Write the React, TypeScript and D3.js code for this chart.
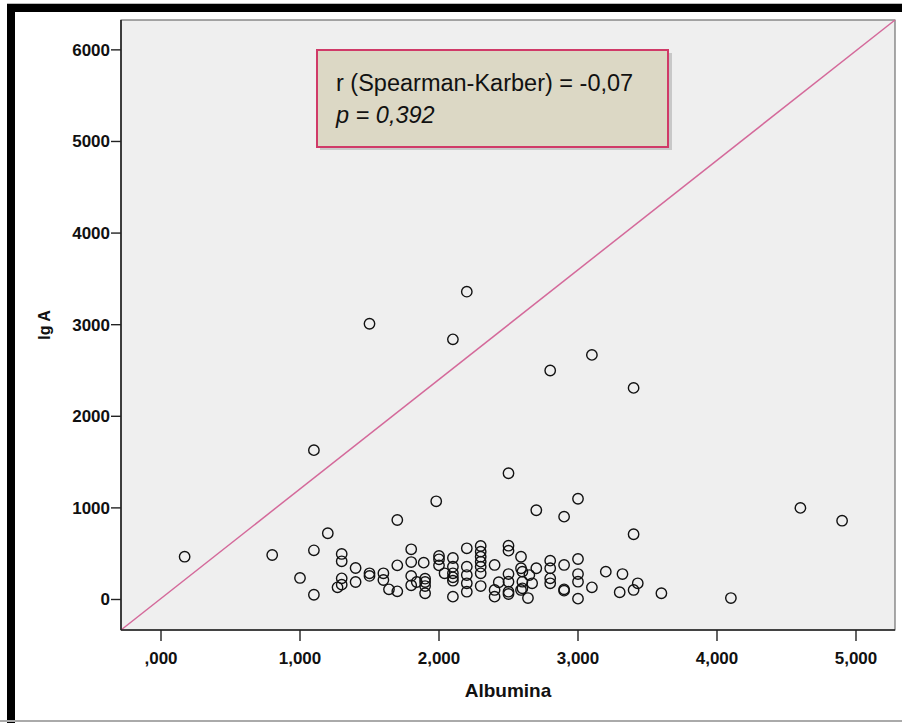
import React from 'react';
import * as d3 from 'd3';

// Albumina (x) and Ig A (y), one pair per subject
const albumina = [
  0.17, 0.8, 1.0, 1.1, 1.1, 1.1, 1.2, 1.5, 1.7, 1.98, 2.1, 2.2, 2.5, 2.7, 2.8, 2.9, 3.0, 3.1, 3.4, 3.4, 3.6, 4.1, 4.6, 4.9,
  1.3, 1.3, 1.3, 1.27, 1.3,
  1.4, 1.4,
  1.5, 1.5,
  1.6, 1.6, 1.64,
  1.7, 1.7,
  1.8, 1.8, 1.8, 1.8, 1.84,
  1.89,
  1.9, 1.9, 1.9, 1.9,
  2.0, 2.0, 2.0, 2.04,
  2.1, 2.1, 2.1, 2.1, 2.1, 2.1,
  2.2, 2.2, 2.2, 2.2, 2.2,
  2.3, 2.3, 2.3, 2.3, 2.3, 2.3, 2.3,
  2.4, 2.43, 2.4, 2.4,
  2.5, 2.5, 2.5, 2.5, 2.5, 2.5,
  2.59, 2.59, 2.6, 2.6, 2.6, 2.59, 2.65, 2.67, 2.64,
  2.7,
  2.8, 2.8, 2.8, 2.8,
  2.9, 2.9, 2.9,
  3.0, 3.0, 3.0, 3.0,
  3.1, 3.2, 3.32, 3.3, 3.4, 3.43,
];

const igA = [
  467, 486, 235, 537, 52, 1630, 723, 3010, 868, 1072, 2840, 3360, 1378, 974, 2500, 904, 1100, 2670, 2310, 712, 68, 16, 1000, 860,
  497, 417, 231, 133, 162,
  344, 191,
  286, 257,
  286, 213, 111,
  89, 373,
  548, 409, 257, 155, 191,
  402,
  227, 191, 147, 68,
  475, 439, 373, 286,
  453, 358, 286, 242, 205, 31,
  559, 358, 267, 177, 85,
  584, 522, 467, 413, 358, 286, 147,
  377, 188, 104, 31,
  587, 533, 278, 194, 85, 60,
  467, 341, 304, 194, 122, 104, 267, 177, 16,
  341,
  424, 341, 231, 177,
  377, 111, 96,
  442, 278, 194, 9,
  133, 304, 278, 79, 104, 177,
];

const xTicks = [0, 1, 2, 3, 4, 5];
const yTicks = [0, 1000, 2000, 3000, 4000, 5000, 6000];
const statLine1 = 'r (Spearman-Karber) = -0,07';
const statLine2 = 'p = 0,392';

const fmtX = (v: number) => {
  const s = v.toFixed(3).replace('.', ',');
  return s.startsWith('0,') ? s.slice(1) : s;
};

export default function App() {
  const W = 902;
  const H = 723;
  const plot = { left: 121, right: 895, top: 20, bottom: 630 };

  // domain chosen so that ticks land where the reference places them
  const x = d3.scaleLinear().domain([-0.2878, 5.2806]).range([plot.left, plot.right]);
  const y = d3.scaleLinear().domain([-333, 6326]).range([plot.bottom, plot.top]);

  const [x0, x1] = x.domain();
  const [y0, y1] = y.domain();

  const pts = albumina.map((a, i) => ({ a, g: igA[i] }));
  const font = '"Liberation Sans", Arial, sans-serif';

  return (
    <svg width={W} height={H} style={{ position: 'absolute', left: 0, top: 0, background: '#fff' }}>
      {/* outer frame of the source slide */}
      <rect x={7} y={3} width={W} height={1} fill="#bbb" />
      <rect x={7} y={4} width={W} height={8} fill="#000" />
      <rect x={7} y={4} width={8} height={H} fill="#000" />
      <rect x={0} y={720} width={W} height={2} fill="#aaa" />

      <rect x={plot.left} y={plot.top} width={plot.right - plot.left} height={plot.bottom - plot.top}
        fill="#efefef" stroke="#555" strokeWidth={1} />

      {/* reference diagonal */}
      <line x1={x(x0)} y1={y(y0)} x2={x(x1)} y2={y(y1)} stroke="#d4699a" strokeWidth={1.5} />

      {pts.map((d, i) => (
        <circle key={i} cx={x(d.a)} cy={y(d.g)} r={5.2} fill="none" stroke="#111" strokeWidth={1.4} />
      ))}

      {/* axes */}
      <line x1={plot.left} y1={plot.top} x2={plot.left} y2={plot.bottom} stroke="#222" strokeWidth={1.6} />
      <line x1={plot.left} y1={plot.bottom} x2={plot.right} y2={plot.bottom} stroke="#222" strokeWidth={1.6} />

      {yTicks.map((t) => (
        <g key={t} transform={`translate(0,${y(t)})`}>
          <line x1={plot.left - 10} x2={plot.left} stroke="#222" strokeWidth={1.4} />
          <text x={plot.left - 11} dy="0.35em" textAnchor="end" fontFamily={font} fontWeight="bold" fontSize={17} fill="#111">
            {t}
          </text>
        </g>
      ))}

      {xTicks.map((t) => (
        <g key={t} transform={`translate(${x(t)},0)`}>
          <line y1={plot.bottom} y2={plot.bottom + 11} stroke="#222" strokeWidth={1.4} />
          <text y={plot.bottom + 34} textAnchor="middle" fontFamily={font} fontWeight="bold" fontSize={17} fill="#111">
            {fmtX(t)}
          </text>
        </g>
      ))}

      <text x={(plot.left + plot.right) / 2} y={697} textAnchor="middle" fontFamily={font} fontWeight="bold" fontSize={19} fill="#111">
        Albumina
      </text>
      <text transform={`translate(50,${(plot.top + plot.bottom) / 2}) rotate(-90)`} textAnchor="middle"
        fontFamily={font} fontWeight="bold" fontSize={16} fill="#111">
        Ig A
      </text>

      {/* stats box */}
      <rect x={320} y={53} width={352} height={97} fill="#999" opacity={0.45} />
      <rect x={317} y={50} width={351} height={97} fill="#dcd8c5" stroke="#d03a68" strokeWidth={2} />
      <text x={336} y={91} fontFamily={font} fontSize={23.5} fill="#111">{statLine1}</text>
      <text x={336} y={123} fontFamily={font} fontSize={23.5} fontStyle="italic" fill="#111">{statLine2}</text>
    </svg>
  );
}
